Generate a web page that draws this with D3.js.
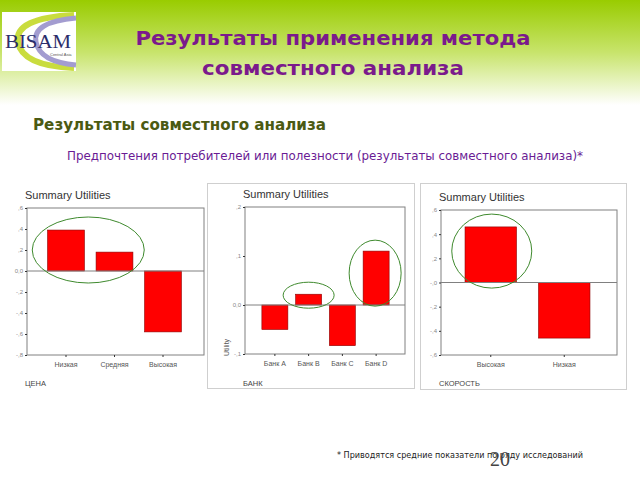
<!DOCTYPE html>
<html><head><meta charset="utf-8">
<script src="https://cdn.jsdelivr.net/npm/d3@7"></script>
<style>html,body{margin:0;padding:0;background:#fff;}svg{display:block;}</style>
</head><body>
<script>
// ---- data ----
const priceCats = ["Низкая", "Средняя", "Высокая"];
const priceVals = [0.39, 0.18, -0.58];
const priceTicks = [0.6, 0.4, 0.2, 0, -0.2, -0.4, -0.6, -0.8];
const priceTickLabels = [",6", ",4", ",2", "0,0", "-,2", "-,4", "-,6", "-,8"];

const bankCats = ["Банк A", "Банк B", "Банк C", "Банк D"];
const bankVals = [-0.05, 0.022, -0.083, 0.11];
const bankTicks = [0.2, 0.1, 0, -0.1];
const bankTickLabels = [",2", ",1", "0,0", "-,1"];

const speedCats = ["Высокая", "Низкая"];
const speedVals = [0.46, -0.46];
const speedTicks = [0.6, 0.4, 0.2, 0, -0.2, -0.4, -0.6];
const speedTickLabels = [",6", ",4", ",2", "-,0", "-,2", "-,4", "-,6"];

const W = 640, H = 480;
const svg = d3.select("body").append("svg").attr("width", W).attr("height", H);
const defs = svg.append("defs");
const grad = defs.append("linearGradient").attr("id", "hdr").attr("x1", 0).attr("y1", 0).attr("x2", 0).attr("y2", 1);
grad.append("stop").attr("offset", "0%").attr("stop-color", "#99cc00");
grad.append("stop").attr("offset", "50%").attr("stop-color", "#c8e46c");
grad.append("stop").attr("offset", "100%").attr("stop-color", "#ffffff");
svg.append("rect").attr("x", 0).attr("y", 0).attr("width", W).attr("height", 105).attr("fill", "url(#hdr)");

// logo
const logo = svg.append("g");
logo.append("rect").attr("x", 2).attr("y", 12).attr("width", 74).attr("height", 59).attr("fill", "#fff");
logo.append("path").attr("d", "M74,15 Q14,18 18,42 Q22,66 74,68").attr("fill", "none").attr("stroke", "#c9dc3e").attr("stroke-width", 6);
logo.append("path").attr("d", "M76,18 Q32,22 36,42 Q40,62 76,65").attr("fill", "none").attr("stroke", "#a39cd0").attr("stroke-width", 5);
logo.append("text").attr("x", 5).attr("y", 48).attr("font-family", "Liberation Serif, serif").attr("font-size", 19)
  .attr("fill", "#2b2d6b").attr("textLength", 66).attr("lengthAdjust", "spacingAndGlyphs").text("BISAM");
logo.append("text").attr("x", 50).attr("y", 56).attr("font-family", "Liberation Sans, sans-serif").attr("font-size", 4)
  .attr("fill", "#555").text("Central Asia");

// titles
const titleFont = "DejaVu Sans, sans-serif";
svg.append("text").attr("x", 333).attr("y", 45).attr("text-anchor", "middle").attr("font-family", titleFont)
  .attr("font-size", 20).attr("font-weight", "bold").attr("fill", "#7b1a8c").attr("textLength", 395).attr("lengthAdjust", "spacingAndGlyphs")
  .text("Результаты применения метода");
svg.append("text").attr("x", 333).attr("y", 75).attr("text-anchor", "middle").attr("font-family", titleFont)
  .attr("font-size", 20).attr("font-weight", "bold").attr("fill", "#7b1a8c").attr("textLength", 262).attr("lengthAdjust", "spacingAndGlyphs")
  .text("совместного анализа");
svg.append("text").attr("x", 33).attr("y", 130).attr("font-family", titleFont)
  .attr("font-size", 15).attr("font-weight", "bold").attr("fill", "#4b5a12").attr("textLength", 293).attr("lengthAdjust", "spacingAndGlyphs")
  .text("Результаты совместного анализа");
svg.append("text").attr("x", 67).attr("y", 160).attr("font-family", titleFont)
  .attr("font-size", 11.5).attr("fill", "#6a1b94").attr("textLength", 516).attr("lengthAdjust", "spacingAndGlyphs")
  .text("Предпочтения потребителей или полезности (результаты совместного анализа)*");

// panel boxes
svg.append("rect").attr("x", 207.5).attr("y", 183.5).attr("width", 207).attr("height", 205).attr("fill", "none").attr("stroke", "#cfcfcf");
svg.append("rect").attr("x", 420.5).attr("y", 183.5).attr("width", 206).attr("height", 206).attr("fill", "none").attr("stroke", "#cfcfcf");

function panel(cfg) {
  const g = svg.append("g");
  const x = d3.scaleBand().domain(cfg.cats).range(cfg.xr).paddingInner(cfg.pad).paddingOuter(cfg.pad / 2);
  const y = d3.scaleLinear().domain(cfg.yd).range(cfg.yr);
  g.append("text").attr("x", cfg.fx0 - 2).attr("y", cfg.yr[1] - 9).attr("font-family", "Liberation Sans, Arial, sans-serif")
    .attr("font-size", 11).attr("fill", "#333").text("Summary Utilities");
  g.append("rect").attr("x", cfg.fx0).attr("y", cfg.yr[1]).attr("width", cfg.fx1 - cfg.fx0).attr("height", cfg.yr[0] - cfg.yr[1])
    .attr("fill", "#fff").attr("stroke", "#808080").attr("stroke-width", 1);
  g.selectAll("rect.bar").data(cfg.vals).join("rect").attr("class", "bar")
    .attr("x", (d, i) => x(cfg.cats[i])).attr("width", x.bandwidth())
    .attr("y", d => y(Math.max(0, d))).attr("height", d => Math.abs(y(d) - y(0)))
    .attr("fill", "#ff0000").attr("stroke", "#8a0000").attr("stroke-width", 0.6);
  g.append("line").attr("x1", cfg.fx0).attr("x2", cfg.fx1).attr("y1", y(0)).attr("y2", y(0)).attr("stroke", "#808080");
  const ya = d3.axisLeft(y).tickValues(cfg.ticks).tickSize(2).tickFormat((d, i) => cfg.tickLabels[i]);
  const yg = g.append("g").attr("transform", `translate(${cfg.fx0},0)`).call(ya);
  yg.select(".domain").remove();
  yg.selectAll("line").attr("stroke", "#333");
  yg.selectAll("text").attr("font-size", 6).attr("fill", "#888").attr("font-family", "Liberation Sans, sans-serif").attr("dx", 1);
  const xa = d3.axisBottom(x).tickSize(2).tickPadding(5);
  const xg = g.append("g").attr("transform", `translate(0,${cfg.yr[0]})`).call(xa);
  xg.select(".domain").remove();
  xg.selectAll("line").attr("stroke", "#333");
  xg.selectAll("text").attr("font-size", 7).attr("fill", "#555").attr("font-family", "Liberation Sans, sans-serif");
  g.append("text").attr("x", cfg.fx0 - 2).attr("y", 386).attr("font-family", "Liberation Sans, sans-serif")
    .attr("font-size", 7.5).attr("fill", "#444").text(cfg.axisTitle);
  cfg.ellipses.forEach(e => {
    g.append("ellipse").attr("cx", e.cx(x)).attr("cy", y(e.cy)).attr("rx", e.rx).attr("ry", e.ry)
      .attr("fill", "none").attr("stroke", "#3f8a2e").attr("stroke-width", 1);
  });
  return {x, y, g};
}

const mid = (x, c) => x(c) + x.bandwidth() / 2;

panel({
  cats: priceCats, vals: priceVals, ticks: priceTicks, tickLabels: priceTickLabels,
  xr: [41.75, 187.25], pad: 0.24, yd: [-0.8, 0.6], yr: [355, 208], fx0: 27, fx1: 204, axisTitle: "ЦЕНА",
  ellipses: [{cx: x => (mid(x, priceCats[0]) + mid(x, priceCats[1])) / 2 - 2, cy: 0.2, rx: 56, ry: 33}]
});

const p2 = panel({
  cats: bankCats, vals: bankVals, ticks: bankTicks, tickLabels: bankTickLabels,
  xr: [258, 393], pad: 0.23, yd: [-0.1, 0.2], yr: [354, 207], fx0: 245, fx1: 405, axisTitle: "БАНК",
  ellipses: [{cx: x => mid(x, bankCats[1]), cy: 0.02, rx: 25.5, ry: 13},
             {cx: x => mid(x, bankCats[3]) - 1, cy: 0.065, rx: 26, ry: 33}]
});
p2.g.append("text").attr("transform", "translate(229,356) rotate(-90)").attr("font-family", "Liberation Sans, sans-serif")
  .attr("font-size", 7).attr("fill", "#555").text("Utility");

panel({
  cats: speedCats, vals: speedVals, ticks: speedTicks, tickLabels: speedTickLabels,
  xr: [454, 601], pad: 0.3, yd: [-0.6, 0.6], yr: [355, 210], fx0: 441, fx1: 617, axisTitle: "СКОРОСТЬ",
  ellipses: [{cx: x => mid(x, speedCats[0]) + 1, cy: 0.26, rx: 40, ry: 37}]
});

svg.append("text").attr("x", 337).attr("y", 458).attr("font-family", "DejaVu Sans, sans-serif").attr("font-size", 8)
  .attr("fill", "#222").attr("textLength", 246).attr("lengthAdjust", "spacingAndGlyphs")
  .text("* Приводятся средние показатели по ряду исследований");
svg.append("text").attr("x", 490).attr("y", 466).attr("font-family", "Liberation Serif, serif").attr("font-size", 20)
  .attr("fill", "#444").text("20");
</script>
</body></html>
